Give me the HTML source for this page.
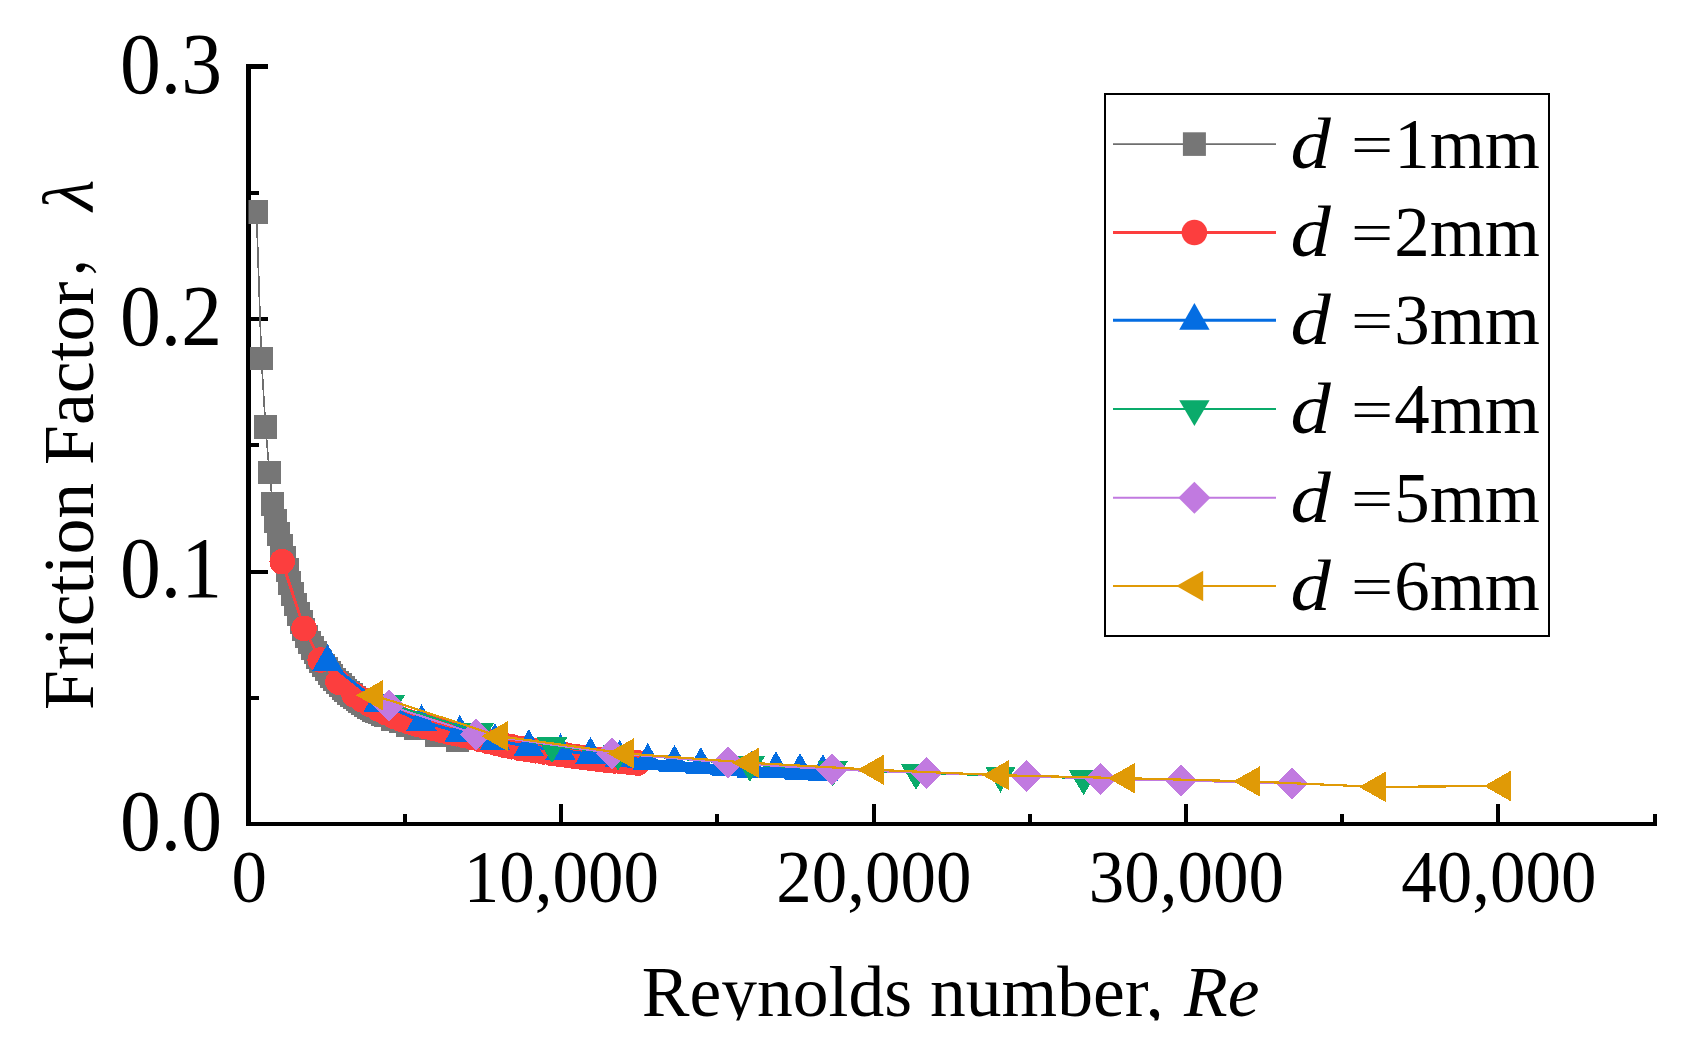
<!DOCTYPE html>
<html lang="en"><head><meta charset="utf-8"><title>Friction factor vs Reynolds number</title>
<style>
html,body{margin:0;padding:0;background:#fff;}
body{width:1682px;height:1042px;overflow:hidden;}
svg{display:block;}
text{font-family:"Liberation Serif","Noto Serif CJK SC",serif;fill:#000;}
.i{font-style:italic;}
</style></head><body>
<svg width="1682" height="1042" viewBox="0 0 1682 1042">
<rect width="1682" height="1042" fill="#fff"/>
<defs><clipPath id="plot"><rect x="248.5" y="60" width="1412" height="764"/></clipPath>
<clipPath id="xt"><rect x="600" y="940" width="700" height="80.5"/></clipPath></defs>
<g fill="#000" shape-rendering="crispEdges">
<rect x="246" y="64" width="5" height="762"/>
<rect x="246" y="822" width="1411" height="4"/>
<rect x="246" y="570" width="22" height="4"/>
<rect x="246" y="317" width="22" height="4"/>
<rect x="246" y="64" width="22" height="5"/>
<rect x="246" y="696" width="13" height="4"/>
<rect x="246" y="443" width="13" height="4"/>
<rect x="246" y="191" width="13" height="4"/>
<rect x="403" y="814" width="4" height="10"/>
<rect x="559" y="804" width="4" height="20"/>
<rect x="715" y="814" width="4" height="10"/>
<rect x="872" y="804" width="4" height="20"/>
<rect x="1028" y="814" width="4" height="10"/>
<rect x="1184" y="804" width="4" height="20"/>
<rect x="1340" y="814" width="4" height="10"/>
<rect x="1496" y="804" width="4" height="20"/>
<rect x="1653" y="814" width="4" height="10"/>
</g>
<g clip-path="url(#plot)" shape-rendering="crispEdges">
<polyline fill="none" stroke="#6E6E6E" stroke-width="1.7" stroke-linejoin="round" points="256.5,212 261.4,358.4 265.6,427.2 269.4,472.3 272.8,503.7 275.9,521.1 278.7,533.9 281.5,546 284.3,557.5 287.1,569.8 289.9,582.7 292.7,594.2 295.5,604.6 298.3,614 301.1,622.1 303.9,629.6 306.7,636.4 309.5,642.4 312.3,647.7 315.1,652.6 317.9,657.1 320.7,661.3 323.5,665.3 326.3,669.1 329.1,672.7 331.9,676.1 334.7,679.3 337.5,682.4 340.3,685.2 343.1,687.9 345.9,690.5 348.7,692.9 351.5,695.2 354.3,697.3 357.1,699.4 359.9,701.4 362.7,703.2 365.5,705 368.3,706.7 371.1,708.2 373.9,709.8 376.7,711.2 379.5,712.6 382.3,713.9 385.1,715.2 392.6,718.9 400.1,721.5 407,724.8 415.6,728 436.4,734.9 457.9,739.7"/>
<g><rect x="245" y="200.2" width="23" height="23.6" fill="#767676"/><rect x="249.9" y="346.6" width="23" height="23.6" fill="#767676"/><rect x="254.1" y="415.4" width="23" height="23.6" fill="#767676"/><rect x="257.9" y="460.5" width="23" height="23.6" fill="#767676"/><rect x="261.3" y="491.9" width="23" height="23.6" fill="#767676"/><rect x="264.4" y="509.3" width="23" height="23.6" fill="#767676"/><rect x="267.2" y="522.1" width="23" height="23.6" fill="#767676"/><rect x="270" y="534.2" width="23" height="23.6" fill="#767676"/><rect x="272.8" y="545.7" width="23" height="23.6" fill="#767676"/><rect x="275.6" y="558" width="23" height="23.6" fill="#767676"/><rect x="278.4" y="570.9" width="23" height="23.6" fill="#767676"/><rect x="281.2" y="582.4" width="23" height="23.6" fill="#767676"/><rect x="284" y="592.8" width="23" height="23.6" fill="#767676"/><rect x="286.8" y="602.2" width="23" height="23.6" fill="#767676"/><rect x="289.6" y="610.3" width="23" height="23.6" fill="#767676"/><rect x="292.4" y="617.8" width="23" height="23.6" fill="#767676"/><rect x="295.2" y="624.6" width="23" height="23.6" fill="#767676"/><rect x="298" y="630.6" width="23" height="23.6" fill="#767676"/><rect x="300.8" y="635.9" width="23" height="23.6" fill="#767676"/><rect x="303.6" y="640.8" width="23" height="23.6" fill="#767676"/><rect x="306.4" y="645.3" width="23" height="23.6" fill="#767676"/><rect x="309.2" y="649.5" width="23" height="23.6" fill="#767676"/><rect x="312" y="653.5" width="23" height="23.6" fill="#767676"/><rect x="314.8" y="657.3" width="23" height="23.6" fill="#767676"/><rect x="317.6" y="660.9" width="23" height="23.6" fill="#767676"/><rect x="320.4" y="664.3" width="23" height="23.6" fill="#767676"/><rect x="323.2" y="667.5" width="23" height="23.6" fill="#767676"/><rect x="326" y="670.6" width="23" height="23.6" fill="#767676"/><rect x="328.8" y="673.4" width="23" height="23.6" fill="#767676"/><rect x="331.6" y="676.1" width="23" height="23.6" fill="#767676"/><rect x="334.4" y="678.7" width="23" height="23.6" fill="#767676"/><rect x="337.2" y="681.1" width="23" height="23.6" fill="#767676"/><rect x="340" y="683.4" width="23" height="23.6" fill="#767676"/><rect x="342.8" y="685.5" width="23" height="23.6" fill="#767676"/><rect x="345.6" y="687.6" width="23" height="23.6" fill="#767676"/><rect x="348.4" y="689.6" width="23" height="23.6" fill="#767676"/><rect x="351.2" y="691.4" width="23" height="23.6" fill="#767676"/><rect x="354" y="693.2" width="23" height="23.6" fill="#767676"/><rect x="356.8" y="694.9" width="23" height="23.6" fill="#767676"/><rect x="359.6" y="696.4" width="23" height="23.6" fill="#767676"/><rect x="362.4" y="698" width="23" height="23.6" fill="#767676"/><rect x="365.2" y="699.4" width="23" height="23.6" fill="#767676"/><rect x="368" y="700.8" width="23" height="23.6" fill="#767676"/><rect x="370.8" y="702.1" width="23" height="23.6" fill="#767676"/><rect x="373.6" y="703.4" width="23" height="23.6" fill="#767676"/><rect x="381.1" y="707.1" width="23" height="23.6" fill="#767676"/><rect x="388.6" y="709.7" width="23" height="23.6" fill="#767676"/><rect x="395.5" y="713" width="23" height="23.6" fill="#767676"/><rect x="404.1" y="716.2" width="23" height="23.6" fill="#767676"/><rect x="424.9" y="723.1" width="23" height="23.6" fill="#767676"/><rect x="446.4" y="727.9" width="23" height="23.6" fill="#767676"/></g>
<polyline fill="none" stroke="#FC3E3E" stroke-width="3" stroke-linejoin="round" points="282.2,561.7 304,628.4 320.2,660 338,682 354,694.7 361.9,699.7 369.8,704.3 377.7,708.6 385.6,712.7 393.4,716.2 401.3,719.3 409.2,721.9 417.1,724.2 425,726.3 432.9,728.2 440.8,730.1 448.7,732 456.6,733.8 464.4,735.6 472.3,737.5 480.2,739.4 488.1,741.3 496,743.2 503.9,745 511.8,746.8 519.7,748.3 527.6,749.6 535.4,750.8 543.3,752 551.2,753.1 559.1,754.2 567,755.2 574.9,756.3 582.8,757.3 590.7,758.3 598.6,759.3 606.4,760.1 614.3,760.9 622.2,761.7 630.1,762.4 638,763"/>
<g><circle cx="282.2" cy="561.7" r="12.75" fill="#FC3E3E"/><circle cx="304" cy="628.4" r="12.75" fill="#FC3E3E"/><circle cx="320.2" cy="660" r="12.75" fill="#FC3E3E"/><circle cx="338" cy="682" r="12.75" fill="#FC3E3E"/><circle cx="354" cy="694.7" r="12.75" fill="#FC3E3E"/><circle cx="361.9" cy="699.7" r="12.75" fill="#FC3E3E"/><circle cx="369.8" cy="704.3" r="12.75" fill="#FC3E3E"/><circle cx="377.7" cy="708.6" r="12.75" fill="#FC3E3E"/><circle cx="385.6" cy="712.7" r="12.75" fill="#FC3E3E"/><circle cx="393.4" cy="716.2" r="12.75" fill="#FC3E3E"/><circle cx="401.3" cy="719.3" r="12.75" fill="#FC3E3E"/><circle cx="409.2" cy="721.9" r="12.75" fill="#FC3E3E"/><circle cx="417.1" cy="724.2" r="12.75" fill="#FC3E3E"/><circle cx="425" cy="726.3" r="12.75" fill="#FC3E3E"/><circle cx="432.9" cy="728.2" r="12.75" fill="#FC3E3E"/><circle cx="440.8" cy="730.1" r="12.75" fill="#FC3E3E"/><circle cx="448.7" cy="732" r="12.75" fill="#FC3E3E"/><circle cx="456.6" cy="733.8" r="12.75" fill="#FC3E3E"/><circle cx="464.4" cy="735.6" r="12.75" fill="#FC3E3E"/><circle cx="472.3" cy="737.5" r="12.75" fill="#FC3E3E"/><circle cx="480.2" cy="739.4" r="12.75" fill="#FC3E3E"/><circle cx="488.1" cy="741.3" r="12.75" fill="#FC3E3E"/><circle cx="496" cy="743.2" r="12.75" fill="#FC3E3E"/><circle cx="503.9" cy="745" r="12.75" fill="#FC3E3E"/><circle cx="511.8" cy="746.8" r="12.75" fill="#FC3E3E"/><circle cx="519.7" cy="748.3" r="12.75" fill="#FC3E3E"/><circle cx="527.6" cy="749.6" r="12.75" fill="#FC3E3E"/><circle cx="535.4" cy="750.8" r="12.75" fill="#FC3E3E"/><circle cx="543.3" cy="752" r="12.75" fill="#FC3E3E"/><circle cx="551.2" cy="753.1" r="12.75" fill="#FC3E3E"/><circle cx="559.1" cy="754.2" r="12.75" fill="#FC3E3E"/><circle cx="567" cy="755.2" r="12.75" fill="#FC3E3E"/><circle cx="574.9" cy="756.3" r="12.75" fill="#FC3E3E"/><circle cx="582.8" cy="757.3" r="12.75" fill="#FC3E3E"/><circle cx="590.7" cy="758.3" r="12.75" fill="#FC3E3E"/><circle cx="598.6" cy="759.3" r="12.75" fill="#FC3E3E"/><circle cx="606.4" cy="760.1" r="12.75" fill="#FC3E3E"/><circle cx="614.3" cy="760.9" r="12.75" fill="#FC3E3E"/><circle cx="622.2" cy="761.7" r="12.75" fill="#FC3E3E"/><circle cx="630.1" cy="762.4" r="12.75" fill="#FC3E3E"/><circle cx="638" cy="763" r="12.75" fill="#FC3E3E"/></g>
<polyline fill="none" stroke="#046DE2" stroke-width="3" stroke-linejoin="round" points="327.5,661.3 378.6,702.5 421.5,721.3 459.8,732.2 495,740.4 528.8,746.4 560.4,750.5 590.5,754.2 619.7,757.1 647.7,760.3 674.5,762.1 700.8,764.3 727,766.3 751.9,768 776,768.4 800,770.2 823,771.4"/>
<polyline fill="none" stroke="#046DE2" stroke-width="10" stroke-linejoin="round" points="619.7,761.6 647.7,764.8 674.5,766.6 700.8,768.8 727,770.8 751.9,772.5 776,772.9 800,774.7 823,775.9"/>
<g><path d="M327.5 644L342.7 670.8L312.3 670.8Z" fill="#046DE2"/><path d="M378.6 685.2L393.8 712L363.4 712Z" fill="#046DE2"/><path d="M421.5 704L436.7 730.8L406.3 730.8Z" fill="#046DE2"/><path d="M459.8 714.9L475 741.7L444.6 741.7Z" fill="#046DE2"/><path d="M495 723.1L510.2 749.9L479.8 749.9Z" fill="#046DE2"/><path d="M528.8 729.1L544 755.9L513.6 755.9Z" fill="#046DE2"/><path d="M560.4 733.2L575.6 760L545.2 760Z" fill="#046DE2"/><path d="M590.5 736.9L605.7 763.7L575.3 763.7Z" fill="#046DE2"/><path d="M619.7 739.8L634.9 766.6L604.5 766.6Z" fill="#046DE2"/><path d="M647.7 743L662.9 769.8L632.5 769.8Z" fill="#046DE2"/><path d="M674.5 744.8L689.7 771.6L659.3 771.6Z" fill="#046DE2"/><path d="M700.8 747L716 773.8L685.6 773.8Z" fill="#046DE2"/><path d="M727 749L742.2 775.8L711.8 775.8Z" fill="#046DE2"/><path d="M751.9 750.7L767.1 777.5L736.7 777.5Z" fill="#046DE2"/><path d="M776 751.1L791.2 777.9L760.8 777.9Z" fill="#046DE2"/><path d="M800 752.9L815.2 779.7L784.8 779.7Z" fill="#046DE2"/><path d="M823 754.1L838.2 780.9L807.8 780.9Z" fill="#046DE2"/></g>
<polyline fill="none" stroke="#0AAB6B" stroke-width="2" stroke-linejoin="round" points="389.6,704.1 478.8,731.9 552,746.1 618.1,753.6 749.8,764.8 832.8,769.4 916,772.8 1000.5,775.6 1083.6,778.2"/>
<g><path d="M374.4 695.4L404.8 695.4L389.6 721.1Z" fill="#0AAB6B"/><path d="M463.6 723.2L494 723.2L478.8 748.9Z" fill="#0AAB6B"/><path d="M536.8 737.4L567.2 737.4L552 763.1Z" fill="#0AAB6B"/><path d="M602.9 744.9L633.3 744.9L618.1 770.6Z" fill="#0AAB6B"/><path d="M734.6 756.1L765 756.1L749.8 781.8Z" fill="#0AAB6B"/><path d="M817.6 760.7L848 760.7L832.8 786.4Z" fill="#0AAB6B"/><path d="M900.8 764.1L931.2 764.1L916 789.8Z" fill="#0AAB6B"/><path d="M985.3 766.9L1015.7 766.9L1000.5 792.6Z" fill="#0AAB6B"/><path d="M1068.4 769.5L1098.8 769.5L1083.6 795.2Z" fill="#0AAB6B"/></g>
<polyline fill="none" stroke="#C17AE0" stroke-width="2" stroke-linejoin="round" points="389.2,705.6 476,734.1 612,753.1 728,762.7 832.2,769.6 926.7,772.9 1026.2,776 1100.5,778.9 1180.7,780.6 1292.2,783.6"/>
<g><path d="M389.2 689.6L405.2 705.6L389.2 721.6L373.2 705.6Z" fill="#C17AE0"/><path d="M476 718.1L492 734.1L476 750.1L460 734.1Z" fill="#C17AE0"/><path d="M612 737.1L628 753.1L612 769.1L596 753.1Z" fill="#C17AE0"/><path d="M728 746.7L744 762.7L728 778.7L712 762.7Z" fill="#C17AE0"/><path d="M832.2 753.6L848.2 769.6L832.2 785.6L816.2 769.6Z" fill="#C17AE0"/><path d="M926.7 756.9L942.7 772.9L926.7 788.9L910.7 772.9Z" fill="#C17AE0"/><path d="M1026.2 760L1042.2 776L1026.2 792L1010.2 776Z" fill="#C17AE0"/><path d="M1100.5 762.9L1116.5 778.9L1100.5 794.9L1084.5 778.9Z" fill="#C17AE0"/><path d="M1180.7 764.6L1196.7 780.6L1180.7 796.6L1164.7 780.6Z" fill="#C17AE0"/><path d="M1292.2 767.6L1308.2 783.6L1292.2 799.6L1276.2 783.6Z" fill="#C17AE0"/></g>
<polyline fill="none" stroke="#E09A06" stroke-width="2.2" stroke-linejoin="round" points="374.1,695.3 499.3,736.2 625.1,753.4 750.1,762.8 875.3,769.8 1000.3,775.2 1126,778.2 1251.1,781.4 1376.9,786.9 1501.9,786"/>
<g><path d="M356.1 695.3L382.9 680.1L382.9 710.5Z" fill="#E09A06"/><path d="M481.3 736.2L508.1 721L508.1 751.4Z" fill="#E09A06"/><path d="M607.1 753.4L633.9 738.2L633.9 768.6Z" fill="#E09A06"/><path d="M732.1 762.8L758.9 747.6L758.9 778Z" fill="#E09A06"/><path d="M857.3 769.8L884.1 754.6L884.1 785Z" fill="#E09A06"/><path d="M982.3 775.2L1009.1 760L1009.1 790.4Z" fill="#E09A06"/><path d="M1108 778.2L1134.8 763L1134.8 793.4Z" fill="#E09A06"/><path d="M1233.1 781.4L1259.9 766.2L1259.9 796.6Z" fill="#E09A06"/><path d="M1358.9 786.9L1385.7 771.7L1385.7 802.1Z" fill="#E09A06"/><path d="M1483.9 786L1510.7 770.8L1510.7 801.2Z" fill="#E09A06"/></g>
</g>
<g font-size="86" text-anchor="end">
<text transform="translate(222 92.9) scale(0.95 1)">0.3</text>
<text transform="translate(222 344.8) scale(0.95 1)">0.2</text>
<text transform="translate(222 597.4) scale(0.95 1)">0.1</text>
<text transform="translate(222 849.9) scale(0.95 1)">0.0</text>
</g>
<g font-size="73" text-anchor="middle">
<text transform="translate(249.3 901.5) scale(0.972 1)">0</text>
<text transform="translate(561.3 901.5) scale(0.972 1)">10,000</text>
<text transform="translate(873.8 901.5) scale(0.972 1)">20,000</text>
<text transform="translate(1186.3 901.5) scale(0.972 1)">30,000</text>
<text transform="translate(1498.8 901.5) scale(0.972 1)">40,000</text>
</g>
<g clip-path="url(#xt)"><text transform="translate(641.8 1015.8) scale(0.994 1)" font-size="72" xml:space="preserve">Reynolds number, <tspan class="i" dx="2.5">Re</tspan></text></g>
<text transform="translate(93 710) rotate(-90) scale(0.9965 1)" font-size="72" xml:space="preserve">Friction Factor<tspan font-size="64" dx="3.7" dy="-9.9">，</tspan><tspan class="i" dx="3.4" dy="9.9">λ</tspan></text>
<rect x="1105" y="94" width="444" height="542" fill="#fff" stroke="#000" stroke-width="2" shape-rendering="crispEdges"/>
<line x1="1113" y1="144.1" x2="1276" y2="144.1" stroke="#6E6E6E" stroke-width="1.8"/>
<rect x="1182.9" y="132.3" width="23" height="23.6" fill="#767676"/>
<text class="i" transform="translate(1290.5 167.8) scale(1.12 1)" font-size="72">d</text>
<text transform="translate(1351 163.9) scale(1.04 0.8)" font-size="72">=</text>
<text transform="translate(1540 167.8) scale(0.985 1)" text-anchor="end" font-size="72">1mm</text>
<line x1="1113" y1="232.4" x2="1276" y2="232.4" stroke="#FC3E3E" stroke-width="3"/>
<circle cx="1194.4" cy="232.4" r="12.75" fill="#FC3E3E"/>
<text class="i" transform="translate(1290.5 256.1) scale(1.12 1)" font-size="72">d</text>
<text transform="translate(1351 252.2) scale(1.04 0.8)" font-size="72">=</text>
<text transform="translate(1540 256.1) scale(0.985 1)" text-anchor="end" font-size="72">2mm</text>
<line x1="1113" y1="320.3" x2="1276" y2="320.3" stroke="#046DE2" stroke-width="3"/>
<path d="M1194.4 303L1209.6 329.8L1179.2 329.8Z" fill="#046DE2"/>
<text class="i" transform="translate(1290.5 344) scale(1.12 1)" font-size="72">d</text>
<text transform="translate(1351 340.1) scale(1.04 0.8)" font-size="72">=</text>
<text transform="translate(1540 344) scale(0.985 1)" text-anchor="end" font-size="72">3mm</text>
<line x1="1113" y1="409" x2="1276" y2="409" stroke="#0AAB6B" stroke-width="2"/>
<path d="M1179.2 400.3L1209.6 400.3L1194.4 426Z" fill="#0AAB6B"/>
<text class="i" transform="translate(1290.5 432.7) scale(1.12 1)" font-size="72">d</text>
<text transform="translate(1351 428.8) scale(1.04 0.8)" font-size="72">=</text>
<text transform="translate(1540 432.7) scale(0.985 1)" text-anchor="end" font-size="72">4mm</text>
<line x1="1113" y1="497.8" x2="1276" y2="497.8" stroke="#C17AE0" stroke-width="2"/>
<path d="M1194.4 481.8L1210.4 497.8L1194.4 513.8L1178.4 497.8Z" fill="#C17AE0"/>
<text class="i" transform="translate(1290.5 521.5) scale(1.12 1)" font-size="72">d</text>
<text transform="translate(1351 517.6) scale(1.04 0.8)" font-size="72">=</text>
<text transform="translate(1540 521.5) scale(0.985 1)" text-anchor="end" font-size="72">5mm</text>
<line x1="1113" y1="586" x2="1276" y2="586" stroke="#E09A06" stroke-width="2.2"/>
<path d="M1176.4 586L1203.2 570.8L1203.2 601.2Z" fill="#E09A06"/>
<text class="i" transform="translate(1290.5 609.7) scale(1.12 1)" font-size="72">d</text>
<text transform="translate(1351 605.8) scale(1.04 0.8)" font-size="72">=</text>
<text transform="translate(1540 609.7) scale(0.985 1)" text-anchor="end" font-size="72">6mm</text>
</svg>
</body></html>
